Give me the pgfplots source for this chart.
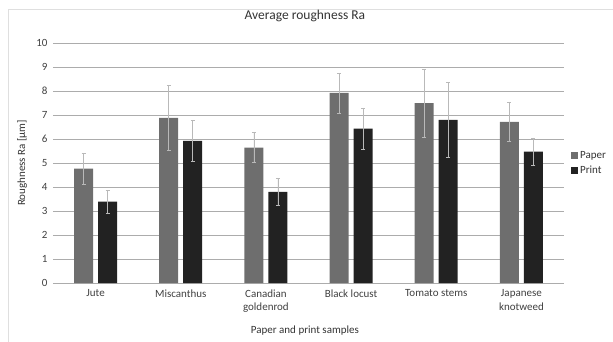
\documentclass[border=0pt]{standalone}
\usepackage{fontspec}
\setmainfont{Carlito}
\usepackage{pgfplots}
\usepackage{pgfplotstable}
\pgfplotsset{compat=1.18}
\definecolor{paperc}{HTML}{6E6E6E}
\definecolor{printc}{HTML}{222222}
\pgfplotstableread{
x y e
0 4.77 0.64
1 6.88 1.34
2 5.64 0.62
3 7.92 0.83
4 7.50 1.42
5 6.71 0.80
}\paper
\pgfplotstableread{
x y e
0 3.39 0.47
1 5.92 0.85
2 3.80 0.58
3 6.43 0.87
4 6.80 1.56
5 5.47 0.58
}\print
\begin{document}
\begin{tikzpicture}[x=1pt,y=1pt]
\path[use as bounding box] (0,0) rectangle (613,341);
\draw[gray!25] (8,-5) -- (8,332) -- (620,332);
\begin{axis}[
  at={(53pt,58pt)}, anchor=south west,
  scale only axis, width=511pt, height=240pt,
  xmin=-0.5, xmax=5.5, ymin=0, ymax=10,
  ytick={0,1,...,10}, xtick={0,...,5},
  xticklabels={Jute, Miscanthus, {Canadian\\goldenrod}, Black locust, Tomato stems, {Japanese\\knotweed}},
  xticklabel style={align=center, yshift=-3pt},
  yticklabel style={xshift=-2pt},
  major tick length=0pt,
  axis line style={draw=none},
  ymajorgrids, grid style={gray!65, line width=0.7pt},
  ybar=5pt, bar width=19pt,
  font=\fontsize{11}{13}\selectfont,
  tick label style={font=\fontsize{11}{13.5}\selectfont, text=black!75},
  /pgf/number format/assume math mode=true,
  title={Average roughness Ra},
  title style={at={(axis description cs:0.493,1.0875)}, anchor=center, font=\fontsize{13.5}{15}\selectfont, text=black!80},
  ylabel={Roughness Ra [µm]},
  ylabel style={at={(axis description cs:-0.0607,0.5)}, anchor=center, text=black!80},
  xlabel={Paper and print samples},
  xlabel style={at={(axis description cs:0.493,-0.2)}, anchor=center, text=black!80},
  legend style={at={(axis description cs:1,0.5)}, anchor=west, xshift=6pt, draw=none, fill=none,
    font=\fontsize{11}{13}\selectfont, text=black!80, row sep=2pt, inner sep=1pt},
  legend image code/.code={\fill[#1] (0pt,-3.5pt) rectangle (7pt,3.5pt);},
  legend cell align=left,
]
\addplot[fill=paperc, draw=none,
  error bars/.cd, y dir=both, y explicit,
  error bar style={gray!55, line width=0.6pt},
  error mark options={rotate=90, mark size=2pt, gray!55, line width=0.6pt}]
  table[x=x, y=y, y error=e] {\paper};
\addlegendentry{Paper}
\addplot[fill=printc, draw=none,
  error bars/.cd, y dir=both, y explicit,
  error bar style={gray!55, line width=0.6pt},
  error mark options={rotate=90, mark size=2pt, gray!55, line width=0.6pt}]
  table[x=x, y=y, y error=e] {\print};
\addlegendentry{Print}
\end{axis}
\end{tikzpicture}
\end{document}
